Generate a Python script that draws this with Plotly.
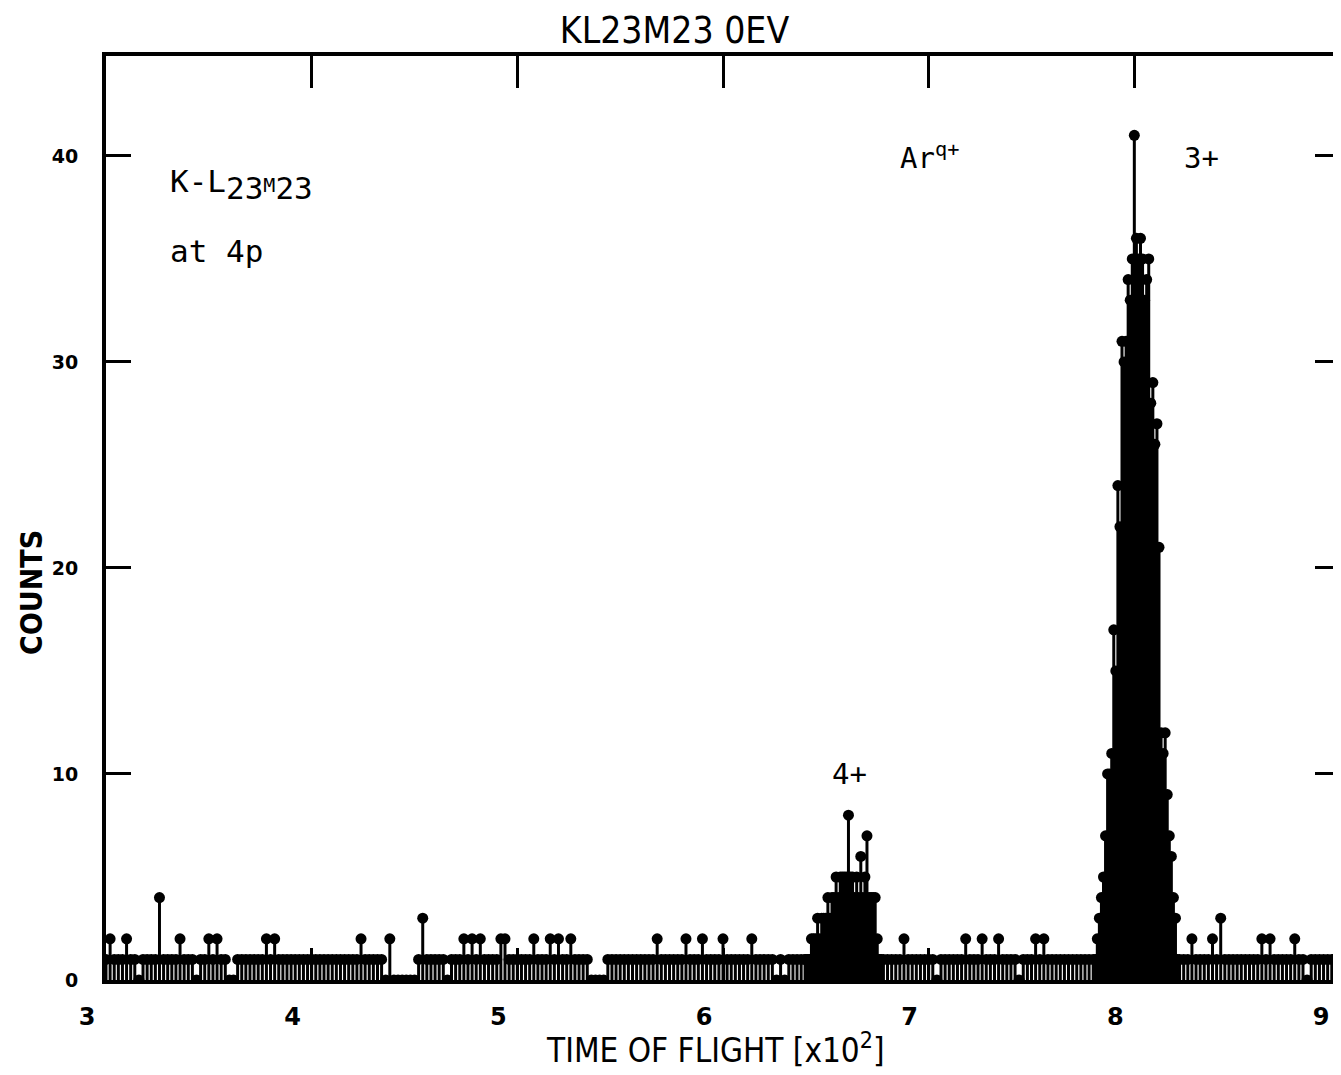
import numpy as np
import plotly.graph_objects as go

# ---------------- data (time of flight in units of x10^2, counts) ----------------
bg_start = 3.00
bg_step = 0.02
counts_300 = [1, 2, 1, 1, 1, 2, 1, 1, 0, 1,
              1, 1, 1, 4, 1, 1, 1, 1, 2, 1,
              1, 1, 0, 1, 1, 2, 1, 2, 1, 1,
              0, 0, 1, 1, 1, 1, 1, 1, 1, 2,
              1, 2, 1, 1, 1, 1, 1, 1, 1, 1]
counts_400 = [1, 1, 1, 1, 1, 1, 1, 1, 1, 1,
              1, 1, 2, 1, 1, 1, 1, 1, 0, 2,
              0, 0, 0, 0, 0, 0, 1, 3, 1, 1,
              1, 1, 1, 0, 1, 1, 1, 2, 1, 2,
              1, 2, 1, 1, 1, 1, 2, 2, 1, 1]
counts_500 = [1, 1, 1, 1, 2, 1, 1, 1, 2, 1,
              2, 1, 1, 2, 1, 1, 1, 1, 0, 0,
              0, 0, 1, 1, 1, 1, 1, 1, 1, 1,
              1, 1, 1, 1, 2, 1, 1, 1, 1, 1,
              1, 2, 1, 1, 1, 2, 1, 1, 1, 1]
counts_600 = [2, 1, 1, 1, 1, 1, 1, 2, 1, 1,
              1, 1, 1, 0, 1, 0, 1, 1, 1, 1,
              1, 1, 1, 1, 1, 1, 1, 1, 1, 1,
              1, 1, 1, 1, 1, 1, 1, 1, 1, 1,
              1, 1, 1, 1, 2, 1, 1, 1, 1, 1]
counts_700 = [1, 1, 0, 1, 1, 1, 1, 1, 1, 2,
              1, 1, 1, 2, 1, 1, 1, 2, 1, 1,
              1, 1, 0, 1, 1, 1, 2, 1, 2, 1,
              1, 1, 1, 1, 1, 1, 1, 1, 1, 1,
              1, 1, 1, 1, 1, 1, 1, 1, 1, 1]
counts_800 = [1, 1, 1, 1, 1, 1, 1, 1, 1, 1,
              1, 1, 1, 1, 2, 1, 1, 1, 1, 2,
              1, 3, 1, 1, 1, 1, 1, 1, 1, 1,
              1, 2, 1, 2, 1, 1, 1, 1, 1, 2,
              1, 1, 0, 1, 1, 1, 1, 1, 1, 1, 1]

# Ar4+ peak, fine channels
peak4_start = 6.40
peak_step = 0.01
peak4_counts = [1, 1, 1, 2, 2, 2, 3, 2, 3, 3,
                3, 4, 3, 4, 4, 5, 4, 5, 5, 5,
                5, 8, 5, 5, 4, 5, 4, 6, 4, 5,
                7, 4, 4, 4, 4, 2, 1, 1]

# Ar3+ peak, fine channels
peak3_start = 7.81
peak3_counts = [1, 2, 3, 4, 5, 7, 10, 10, 11, 17,
                15, 24, 22, 31, 30, 31, 34, 33, 35, 41,
                36, 35, 36, 35, 33, 34, 35, 28, 29, 26,
                27, 21, 12, 11, 12, 9, 7, 6, 4, 3, 1]

x_ticks = [3, 4, 5, 6, 7, 8, 9]
y_ticks = [0, 10, 20, 30, 40]

# ---------------- build series ----------------
bg_counts = counts_300 + counts_400 + counts_500 + counts_600 + counts_700 + counts_800
bg_x = np.round(bg_start + bg_step * np.arange(len(bg_counts)), 3)
p4_x = np.round(peak4_start + peak_step * np.arange(len(peak4_counts)), 3)
p3_x = np.round(peak3_start + peak_step * np.arange(len(peak3_counts)), 3)

all_x = list(bg_x) + list(p4_x) + list(p3_x)
all_y = list(bg_counts) + list(peak4_counts) + list(peak3_counts)


def stems(xs, ys):
    sx, sy = [], []
    for x, y in zip(xs, ys):
        sx += [x, x, None]
        sy += [0, y, None]
    return sx, sy


sx, sy = stems(all_x, all_y)

fig = go.Figure()
fig.add_trace(go.Scatter(x=sx, y=sy, mode="lines",
                         line=dict(color="black", width=3),
                         hoverinfo="skip", showlegend=False))
fig.add_trace(go.Scatter(x=all_x, y=all_y, mode="markers",
                         marker=dict(color="black", size=11, line=dict(width=0)),
                         showlegend=False))

mono = "DejaVu Sans Mono"
narrow = "DejaVu Sans Condensed, Liberation Sans Narrow, DejaVu Sans, sans-serif"

fig.update_layout(
    width=1333, height=1067, autosize=False,
    margin=dict(l=98, r=1, t=48, b=95),
    paper_bgcolor="white", plot_bgcolor="white",
    title=dict(text="KL23M23 0EV", x=0.5, xanchor="center", y=0.979, yanchor="middle",
               font=dict(family=narrow, size=37, color="black")),
    xaxis=dict(range=[3, 9], tickvals=x_ticks, ticktext=[str(v) for v in x_ticks],
               showgrid=False, zeroline=False, automargin=False,
               showline=True, linecolor="black", linewidth=4, mirror="ticks",
               ticks="inside", ticklen=32, tickwidth=3, tickcolor="black",
               ticklabelstandoff=12, ticklabelshift=-19,
               tickfont=dict(family="DejaVu Sans", size=24, color="black", weight="bold")),
    yaxis=dict(range=[0, 44.85], tickvals=y_ticks, ticktext=[str(v) for v in y_ticks],
               showgrid=False, zeroline=False, automargin=False,
               showline=True, linecolor="black", linewidth=4, mirror="ticks",
               ticks="inside", ticklen=25, tickwidth=3, tickcolor="black",
               ticklabelstandoff=20,
               tickfont=dict(family="DejaVu Sans", size=19, color="black", weight="bold")),
)

annos = [
    dict(text="K-L<sub><span style='font-size:31px'>23</span></sub>"
              "<span style='font-size:20px'>M</span>"
              "<sub><span style='font-size:31px'>23</span></sub>",
         x=3.3, y=38.6, xref="x", yref="y", xanchor="left", yanchor="middle",
         font=dict(family=mono, size=31, color="black")),
    dict(text="at 4p", x=3.3, y=35.4, xref="x", yref="y", xanchor="left", yanchor="middle",
         font=dict(family=mono, size=31, color="black")),
    dict(text="Ar<sup>q+</sup>", x=6.85, y=40.0, xref="x", yref="y", xanchor="left",
         yanchor="middle", font=dict(family=mono, size=29, color="black")),
    dict(text="3+", x=8.23, y=39.9, xref="x", yref="y", xanchor="left", yanchor="middle",
         font=dict(family=mono, size=29, color="black")),
    dict(text="4+", x=6.52, y=10.0, xref="x", yref="y", xanchor="left", yanchor="middle",
         font=dict(family=mono, size=29, color="black")),
    dict(text="COUNTS", x=-0.06, y=0.42, xref="paper", yref="paper", textangle=-90,
         xanchor="center", yanchor="middle", showarrow=False,
         font=dict(family=narrow, size=30, color="black", weight="bold")),
    dict(text="TIME OF FLIGHT [x10<sup>2</sup>]", x=0.494, y=-0.074, xref="paper",
         yref="paper", xanchor="center", yanchor="middle", showarrow=False,
         font=dict(family=narrow, size=33, color="black")),
]
for a in annos:
    a.setdefault("showarrow", False)
    fig.add_annotation(**a)

fig.write_html("out.html")
